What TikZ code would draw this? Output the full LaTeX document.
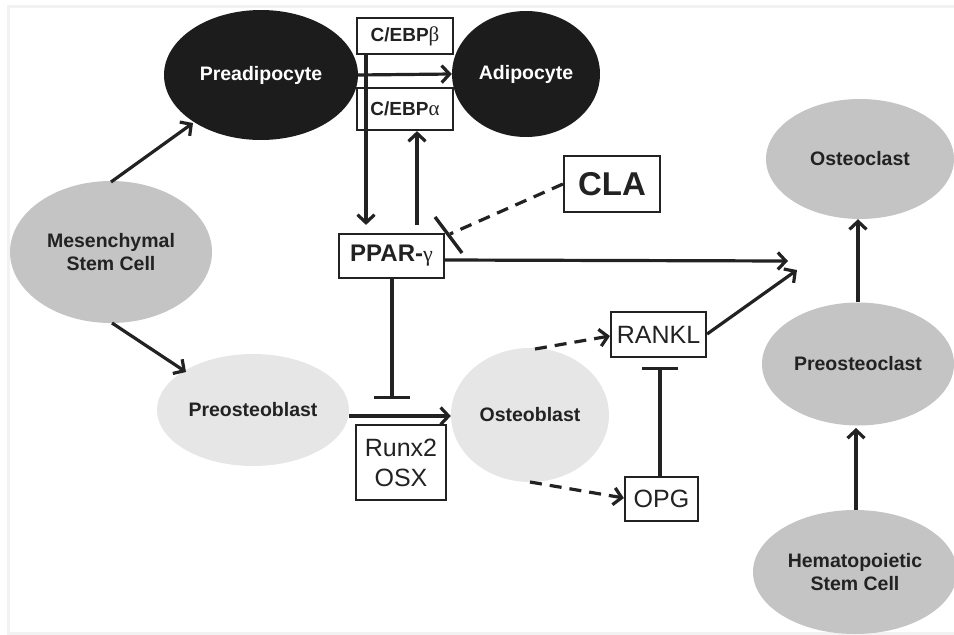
\documentclass[tikz,border=0pt]{standalone}
\usepackage{fontspec}
\setmainfont{Liberation Sans}
\newfontfamily\greekfont{Liberation Serif}
\usetikzlibrary{arrows.meta,shapes.geometric}
\definecolor{txt}{HTML}{222222}
\definecolor{darkcell}{HTML}{1C1C1C}
\definecolor{midcell}{HTML}{C4C4C4}
\definecolor{lightcell}{HTML}{E6E6E6}
\definecolor{framegray}{HTML}{F2F2F2}
\tikzset{
  cell/.style={ellipse, inner sep=0pt, align=center, text=txt,
    font=\fontsize{19.5}{23}\selectfont\bfseries},
  darkc/.style={cell, fill=darkcell, text=white},
  midc/.style={cell, fill=midcell},
  lightc/.style={cell, fill=lightcell},
  factor/.style={draw=txt, line width=2.2pt, fill=white, inner sep=0pt, text=txt, align=center},
  conn/.style={draw=txt, line width=3.2pt},
  arr/.style={conn, -{Straight Barb[length=8pt,width=17pt,line width=3.2pt]}},
  inh/.style={conn, -{Bar[width=36pt,line width=3.4pt]}},
  dsh/.style={conn, dash pattern=on 12pt off 8pt},
}
\begin{document}
\begin{tikzpicture}[x=1pt,y=-1pt]
\useasboundingbox (0,0) rectangle (954,635);
% faint frame
\draw[framegray, line width=3pt] (954,6) -- (8,6) -- (8,633) -- (954,633);

% cells
\node[midc, minimum width=202pt, minimum height=142pt] (msc) at (111,252) {Mesenchymal\\Stem Cell};
\node[darkc, minimum width=194pt, minimum height=130pt] (preadi) at (261,75) {Preadipocyte};
\node[darkc, minimum width=148pt, minimum height=126pt] (adi) at (526,74) {Adipocyte};
\node[lightc, minimum width=192pt, minimum height=112pt] (preob) at (253,410) {Preosteoblast};
\node[lightc, minimum width=158pt, minimum height=134pt] (ob) at (530,415) {Osteoblast};
\node[midc, minimum width=188pt, minimum height=120pt] (oc) at (860,159) {Osteoclast};
\node[midc, minimum width=192pt, minimum height=123pt] (preoc) at (858,364) {Preosteoclast};
\node[midc, minimum width=204pt, minimum height=124pt] (hsc) at (855,572) {Hematopoietic\\Stem Cell};

% factor boxes
\node[factor, minimum width=96pt, minimum height=36pt, font=\fontsize{19}{23}\selectfont\bfseries] (cebpb) at (405,36) {C/EBP{\greekfont\mdseries\fontsize{21}{23}\selectfont β}};
\node[factor, minimum width=96pt, minimum height=42pt, font=\fontsize{19}{23}\selectfont\bfseries] (cebpa) at (405,109) {C/EBP{\greekfont\mdseries\fontsize{21}{23}\selectfont α}};
\node[factor, minimum width=105pt, minimum height=44pt, font=\fontsize{24}{28}\selectfont\bfseries] (ppar) at (391.5,256) {PPAR-{\greekfont\mdseries\fontsize{22}{24}\selectfont γ}};
\node[factor, minimum width=96pt, minimum height=56pt, font=\fontsize{33}{38}\selectfont\bfseries] (cla) at (612,184) {CLA};
\node[factor, minimum width=95pt, minimum height=45pt, font=\fontsize{25}{29}\selectfont] (rankl) at (658.5,334.5) {RANKL};
\node[factor, minimum width=73pt, minimum height=44pt, font=\fontsize{25}{29}\selectfont] (opg) at (661.5,499) {OPG};
\node[factor, minimum width=90pt, minimum height=75pt, font=\fontsize{25}{30}\selectfont] (runx) at (401,462.5) {Runx2\\OSX};

% free ends
\coordinate (octarget1) at (788,261);
\coordinate (octarget2) at (797,270);
\coordinate (clabar) at (450,234);
\coordinate (clabarA) at (435,217);
\coordinate (clabarB) at (462,253);
\coordinate (runxbar) at (392,399);
\coordinate (ranklbar) at (660,367);

% connectors
\draw[arr] (111,182) -- (193,123);
\draw[arr] (112,323) -- (186,372);
\draw[arr] (preadi.east) -- (adi.west);
\draw[arr, shorten >=8pt] (cebpb.south -| 366,0) -- (ppar.north -| 366,0);
\draw[arr, shorten <=8pt] (ppar.north -| 417,0) -- (cebpa.south -| 417,0);
\draw[arr] (ppar.east |- 0,260) -- (octarget1);
\draw[arr] (rankl.east |- 0,334) -- (octarget2);
\draw[dsh] (cla.west) -- (clabar);
\draw[conn, line width=3.4pt] (clabarA) -- (clabarB);
\draw[inh] (ppar.south -| 392,0) -- (runxbar);
\draw[arr] (preob.east |- 0,416) -- (ob.west |- 0,416);
\draw[dsh, -{Straight Barb[length=8pt,width=17pt,line width=3.2pt]}] (535,349) -- (rankl.west |- 0,336);
\draw[dsh, -{Straight Barb[length=8pt,width=17pt,line width=3.2pt]}] (530,482) -- (opg.west |- 0,498);
\draw[inh] (opg.north -| 660,0) -- (ranklbar);
\draw[arr] (preoc.north -| 858,0) -- (oc.south -| 858,0);
\draw[arr] (hsc.north -| 856,0) -- (856,428);
\end{tikzpicture}
\end{document}
